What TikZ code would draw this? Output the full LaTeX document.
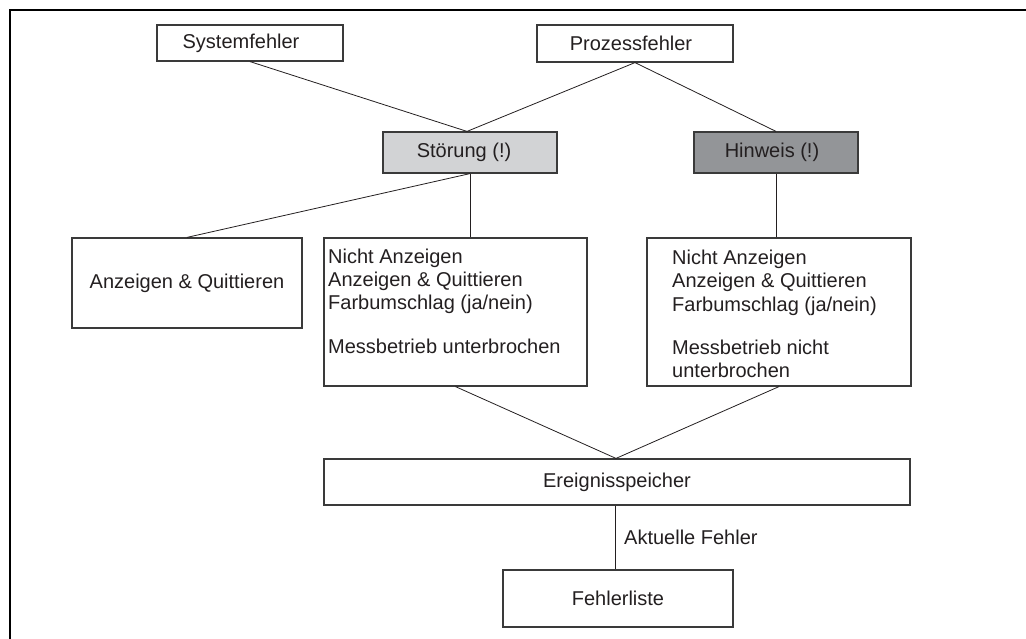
\documentclass[tikz,border=0pt]{standalone}
\usepackage{fontspec}
\setmainfont{Liberation Sans}
\definecolor{txt}{HTML}{231F20}
\definecolor{lgray}{HTML}{D2D3D5}
\definecolor{dgray}{HTML}{939598}
\definecolor{bord}{HTML}{3A3A3A}
\begin{document}
\begin{tikzpicture}[x=1pt,y=-1pt,
  box/.style={draw=bord,line width=1.2pt,inner sep=0pt,text=txt,
    font=\fontsize{20}{23.3}\selectfont},
  conn/.style={draw=txt,line width=0.8pt},
  lbl/.style={inner sep=0pt,text=txt,align=left,anchor=north west,
    font=\fontsize{20}{23.3}\selectfont}]
\useasboundingbox (0,0) rectangle (1026,639);
% frame
\draw[line width=2.2pt,black] (10,639) -- (10,10) -- (1026,10);
% boxes
\node[box,minimum width=186pt,minimum height=36pt] (sys) at (250,43) {Systemfehler\hspace*{18pt}};
\node[box,minimum width=196pt,minimum height=37pt] (proz) at (635,43.5) {Prozessfehler\hspace*{8pt}};
\node[box,fill=lgray,minimum width=174pt,minimum height=41pt] (stoer) at (470,152.5) {Störung (!)\hspace*{12pt}};
\node[box,fill=dgray,minimum width=164pt,minimum height=41pt] (hinw) at (776,152.5) {Hinweis (!)\hspace*{8pt}};
\node[box,minimum width=230pt,minimum height=90pt] (anz) at (187,283) {Anzeigen \& Quittieren};
\node[box,minimum width=263pt,minimum height=148pt] (mid) at (455.5,312) {};
\node[box,minimum width=264pt,minimum height=148pt] (rgt) at (779,312) {};
\node[box,minimum width=586pt,minimum height=46pt] (ereig) at (617,482) {Ereignisspeicher};
\node[box,minimum width=230pt,minimum height=57pt] (fehl) at (618,598.5) {Fehlerliste};
% texts in boxes
\node[lbl] (midtxt) at (328,248.5) {Nicht Anzeigen\\Anzeigen \& Quittieren\\Farbumschlag (ja/nein)\\[20pt]Messbetrieb unterbrochen};
\node[lbl] (rgttxt) at (672,250) {Nicht Anzeigen\\Anzeigen \& Quittieren\\Farbumschlag (ja/nein)\\[20pt]Messbetrieb nicht\\unterbrochen};
% connectors
\draw[conn] (sys.south) -- ([xshift=-3pt]stoer.north);
\draw[conn] (proz.south) -- ([xshift=-3pt]stoer.north);
\draw[conn] (proz.south) -- (hinw.north);
\draw[conn] (stoer.south) -- (anz.north);
\draw[conn] (stoer.south) -- (stoer.south |- mid.north);
\draw[conn] (hinw.south) -- (hinw.south |- rgt.north);
\draw[conn] (mid.south) -- ([xshift=-1pt]ereig.north);
\draw[conn] (rgt.south) -- ([xshift=-1pt]ereig.north);
\draw[conn] ([xshift=-2pt]ereig.south) -- ([xshift=-2pt]ereig.south |- fehl.north);
\node[inner sep=0pt,anchor=west,text=txt,font=\fontsize{20}{23.3}\selectfont] (akt) at (624,537) {Aktuelle Fehler};
\end{tikzpicture}
\end{document}
